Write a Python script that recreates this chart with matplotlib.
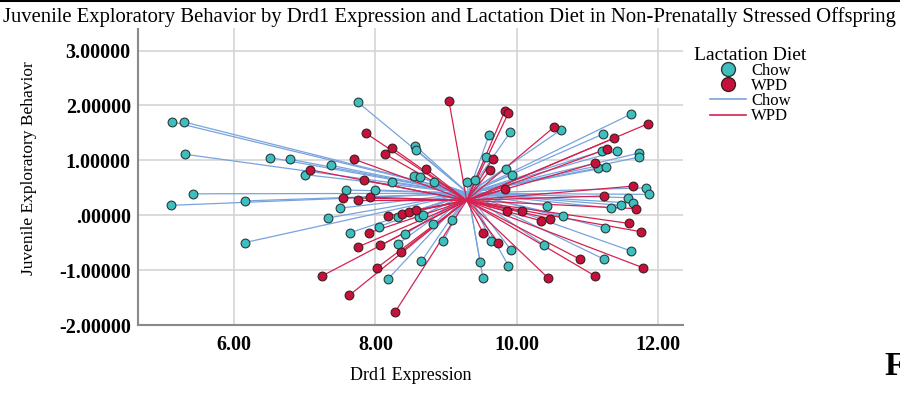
import numpy as np
import matplotlib.pyplot as plt
from matplotlib.lines import Line2D

plt.rcParams['font.family'] = ['Liberation Serif', 'DejaVu Serif']

# Chow group (teal points, blue spokes)
chow_x = [5.13, 5.29, 5.31, 6.51, 6.79, 7.00, 5.42, 5.11, 6.15, 7.33, 6.15, 7.37,
          7.75, 9.61, 9.91, 8.56, 8.58, 9.56, 9.85, 9.93, 8.55, 8.63, 8.23, 8.83,
          9.30, 9.41, 7.59, 7.99, 7.50, 8.32, 8.62, 8.67, 8.05, 7.64, 8.82, 9.08,
          8.42, 8.32, 8.96, 9.64, 9.92, 8.18, 8.65, 9.48, 9.52, 9.88, 11.61, 10.63,
          11.22, 11.20, 11.42, 11.72, 11.73, 11.14, 11.26, 11.82, 11.87, 11.57, 11.64,
          11.47, 11.33, 10.43, 10.65, 11.24, 10.38, 11.61, 11.23]
chow_y = [1.70, 1.70, 1.11, 1.05, 1.02, 0.74, 0.39, 0.18, 0.26, -0.05, -0.50, 0.91,
          2.06, 1.47, 1.52, 1.27, 1.19, 1.06, 0.85, 0.74, 0.72, 0.69, 0.61, 0.61,
          0.61, 0.65, 0.46, 0.46, 0.13, -0.03, -0.03, 0.00, -0.21, -0.32, -0.16, -0.09,
          -0.35, -0.52, -0.47, -0.47, -0.64, -1.16, -0.84, -0.85, -1.14, -0.92, 1.84, 1.56,
          1.48, 1.17, 1.17, 1.13, 1.06, 0.86, 0.87, 0.50, 0.38, 0.32, 0.22,
          0.18, 0.13, 0.17, -0.01, -0.23, -0.54, -0.65, -0.80]

# WPD group (crimson points, red spokes)
wpd_x = [7.07, 9.04, 9.83, 9.88, 7.87, 8.23, 8.14, 7.70, 9.66, 8.71, 9.62, 7.84,
         7.54, 7.76, 7.92, 8.18, 8.37, 8.48, 8.58, 7.91, 7.75, 8.07, 8.36, 9.52,
         9.74, 7.24, 7.63, 8.02, 8.28, 11.86, 10.52, 11.37, 11.28, 11.11, 9.83, 11.64,
         11.23, 11.68, 9.86, 10.07, 10.34, 10.47, 11.59, 11.75, 10.44, 10.89, 11.11, 11.79]
wpd_y = [0.83, 2.08, 1.90, 1.86, 1.49, 1.23, 1.11, 1.02, 1.03, 0.85, 0.82, 0.64,
         0.32, 0.27, 0.33, -0.01, 0.03, 0.05, 0.09, -0.32, -0.58, -0.55, -0.67, -0.32,
         -0.50, -1.11, -1.46, -0.96, -1.76, 1.67, 1.60, 1.40, 1.21, 0.95, 0.48, 0.53,
         0.35, 0.12, 0.07, 0.07, -0.10, -0.06, -0.15, -0.30, -1.14, -0.80, -1.11, -0.96]

# group centroids (spike hubs)
chow_center = (9.31, 0.40)
wpd_center = (9.29, 0.27)

teal = '#3dbfbf'
crimson = '#c8103c'
blue_line = '#78a4de'
red_line = '#d42350'

fig = plt.figure(figsize=(9, 4.04), dpi=100)
ax = fig.add_axes([0.153, 0.1955, 0.606, 0.7745])

for x, y in zip(chow_x, chow_y):
    ax.plot([chow_center[0], x], [chow_center[1], y], color=blue_line, lw=0.9, zorder=2)
for x, y in zip(wpd_x, wpd_y):
    ax.plot([wpd_center[0], x], [wpd_center[1], y], color=red_line, lw=0.9, zorder=3)

ax.scatter(chow_x, chow_y, s=40, c=teal, edgecolors='#2a3a3a', linewidths=0.8, zorder=4)
ax.scatter(wpd_x, wpd_y, s=40, c=crimson, edgecolors='#3a2020', linewidths=0.8, zorder=4)

ax.set_xlim(4.64, 12.35)
ax.set_ylim(-2.0, 3.70)
ax.set_xticks([6, 8, 10, 12])
ax.set_xticklabels(['6.00', '8.00', '10.00', '12.00'])
ax.set_yticks([-2, -1, 0, 1, 2, 3])
ax.set_yticklabels(['-2.00000', '-1.00000', '.00000', '1.00000', '2.00000', '3.00000'])
ax.tick_params(length=0, labelsize=14.5)
ax.tick_params(axis='y', pad=5)
ax.tick_params(axis='x', pad=7)
for lab in ax.get_xticklabels() + ax.get_yticklabels():
    lab.set_fontweight('bold')

ax.grid(True, color='#d4d4d4', lw=1.2, zorder=0)
ax.set_axisbelow(True)
for s in ['top', 'right']:
    ax.spines[s].set_visible(False)
for s in ['left', 'bottom']:
    ax.spines[s].set_color('#8a8a8a')
    ax.spines[s].set_linewidth(1.5)

ax.set_xlabel('Drd1 Expression', fontsize=13, labelpad=9)
ax.set_ylabel('Juvenile Exploratory Behavior', fontsize=12.5)
ax.yaxis.set_label_coords(-0.185, 0.5)

fig.text(0.003, 0.958, 'Juvenile Exploratory Behavior by Drd1 Expression and Lactation Diet in '
         'Non-Prenatally Stressed Offspring', fontsize=14.9, ha='left', va='center',
         bbox=dict(facecolor='white', edgecolor='none', pad=1), zorder=10)

handles = [
    Line2D([], [], ls='', marker='o', markersize=10, markerfacecolor=teal, markeredgecolor='#2a3a3a'),
    Line2D([], [], ls='', marker='o', markersize=10, markerfacecolor=crimson, markeredgecolor='#3a2020'),
    Line2D([], [], color=blue_line, lw=1.2),
    Line2D([], [], color=red_line, lw=1.2),
]
leg = fig.legend(handles, ['Chow', 'WPD', 'Chow', 'WPD'], title='Lactation Diet',
                 loc='upper left', bbox_to_anchor=(0.762, 0.905), frameon=False,
                 fontsize=12, title_fontsize=14, handlelength=2.2, handletextpad=0.3,
                 labelspacing=-0.05, borderpad=0, alignment='center')

fig.add_artist(Line2D([0, 1], [0.998, 0.998], transform=fig.transFigure, color='black', lw=1.5))
fig.text(0.983, 0.055, 'F', fontsize=24, fontweight='bold', ha='left', va='bottom')

fig.savefig('out.png', dpi=100)
